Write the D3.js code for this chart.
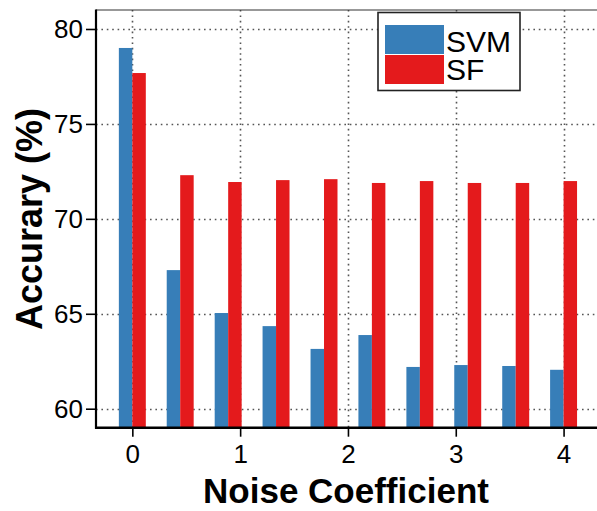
<!DOCTYPE html>
<html>
<head>
<meta charset="utf-8">
<script src="https://cdn.jsdelivr.net/npm/d3@7"></script>
<style>
  html, body { margin: 0; padding: 0; background: #fff; }
  svg { display: block; font-family: "Liberation Sans", Arial, sans-serif; }
</style>
</head>
<body>
<svg id="chart" width="597" height="511"></svg>
<script>
// ---- data ----
const noise = [0, 0.444, 0.889, 1.333, 1.778, 2.222, 2.667, 3.111, 3.556, 4];
const svm = [79.0, 67.3, 65.04, 64.35, 63.15, 63.88, 62.2, 62.3, 62.25, 62.05];
const sf  = [77.68, 72.3, 71.94, 72.04, 72.09, 71.89, 71.99, 71.89, 71.89, 71.99];
const seriesNames = ["SVM", "SF"];
const seriesColors = ["#377eb8", "#e41a1c"];
const xTicks = [0, 1, 2, 3, 4];
const yTicks = [60, 65, 70, 75, 80];
const xDomain = [-0.337, 4.31];
const yDomain = [59, 81];
const barWidth = 0.125;

const svg = d3.select("#chart");
const pLeft = 96, pTop = 10, pRight = 600, pBottom = 427.7;

const x = d3.scaleLinear().domain(xDomain).range([pLeft, 597]);
const y = d3.scaleLinear().domain(yDomain).range([pBottom, pTop]);

// grid
const grid = svg.append("g").attr("stroke", "#555").attr("stroke-width", 1.6)
  .attr("stroke-dasharray", "1.6,3.8");
grid.selectAll("line.h").data(yTicks).enter().append("line")
  .attr("x1", pLeft).attr("x2", pRight)
  .attr("y1", d => Math.round(y(d)) + 0.5).attr("y2", d => Math.round(y(d)) + 0.5);
grid.selectAll("line.v").data(xTicks).enter().append("line")
  .attr("y1", pTop).attr("y2", pBottom)
  .attr("x1", d => Math.round(x(d)) + 0.5).attr("x2", d => Math.round(x(d)) + 0.5);

// bars
const bars = svg.append("g");
bars.selectAll("rect.svm").data(noise).enter().append("rect")
  .attr("x", (d) => x(d - barWidth))
  .attr("width", (d) => x(d) - x(d - barWidth))
  .attr("y", (d, i) => y(svm[i]))
  .attr("height", (d, i) => y(yDomain[0]) - y(svm[i]))
  .attr("fill", seriesColors[0]);
bars.selectAll("rect.sf").data(noise).enter().append("rect")
  .attr("x", (d) => x(d))
  .attr("width", (d) => x(d + barWidth) - x(d))
  .attr("y", (d, i) => y(sf[i]))
  .attr("height", (d, i) => y(yDomain[0]) - y(sf[i]))
  .attr("fill", seriesColors[1]);

// top border
svg.append("line").attr("x1", pLeft).attr("x2", pRight)
  .attr("y1", pTop).attr("y2", pTop).attr("stroke", "#333").attr("stroke-width", 1.2);

// axes
const yAxis = d3.axisLeft(y).tickValues(yTicks).tickSize(10).tickPadding(3).tickFormat(d3.format("d"));
const gy = svg.append("g").attr("transform", `translate(${pLeft},0)`).call(yAxis);
gy.select(".domain").remove();
gy.selectAll(".tick line").attr("stroke", "#000").attr("stroke-width", 1.6);
gy.selectAll(".tick text").attr("font-size", 26).attr("fill", "#000")
  .attr("font-family", "'Liberation Sans', Arial, sans-serif");

const xAxis = d3.axisBottom(x).tickValues(xTicks).tickSize(9).tickPadding(8).tickFormat(d3.format("d"));
const gx = svg.append("g").attr("transform", `translate(0,${pBottom})`).call(xAxis);
gx.select(".domain").remove();
gx.selectAll(".tick line").attr("stroke", "#000").attr("stroke-width", 1.6);
gx.selectAll(".tick text").attr("font-size", 26).attr("fill", "#000")
  .attr("font-family", "'Liberation Sans', Arial, sans-serif");

// axis lines
svg.append("line").attr("x1", pLeft).attr("x2", pLeft).attr("y1", pTop - 0.5).attr("y2", pBottom + 1)
  .attr("stroke", "#000").attr("stroke-width", 2.2);
svg.append("line").attr("x1", pLeft - 1).attr("x2", pRight).attr("y1", pBottom).attr("y2", pBottom)
  .attr("stroke", "#000").attr("stroke-width", 2.4);

// axis titles
svg.append("text").attr("x", 346).attr("y", 503).attr("text-anchor", "middle")
  .attr("font-size", 35).attr("font-weight", "bold").text("Noise Coefficient");
svg.append("text").attr("transform", "translate(42,219) rotate(-90)").attr("text-anchor", "middle")
  .attr("font-size", 36).attr("font-weight", "bold").text("Accurary (%)");

// legend
const lg = svg.append("g");
lg.append("rect").attr("x", 378).attr("y", 12.5).attr("width", 142).attr("height", 78)
  .attr("fill", "#fff").attr("stroke", "#222").attr("stroke-width", 1.6);
seriesNames.forEach((name, i) => {
  lg.append("rect").attr("x", 385).attr("y", 25 + i * 30).attr("width", 59).attr("height", 29)
    .attr("fill", seriesColors[i]);
  lg.append("text").attr("x", 446).attr("y", 51.5 + i * 28.5).attr("font-size", 30)
    .attr("fill", "#000").text(name);
});
</script>
</body>
</html>
